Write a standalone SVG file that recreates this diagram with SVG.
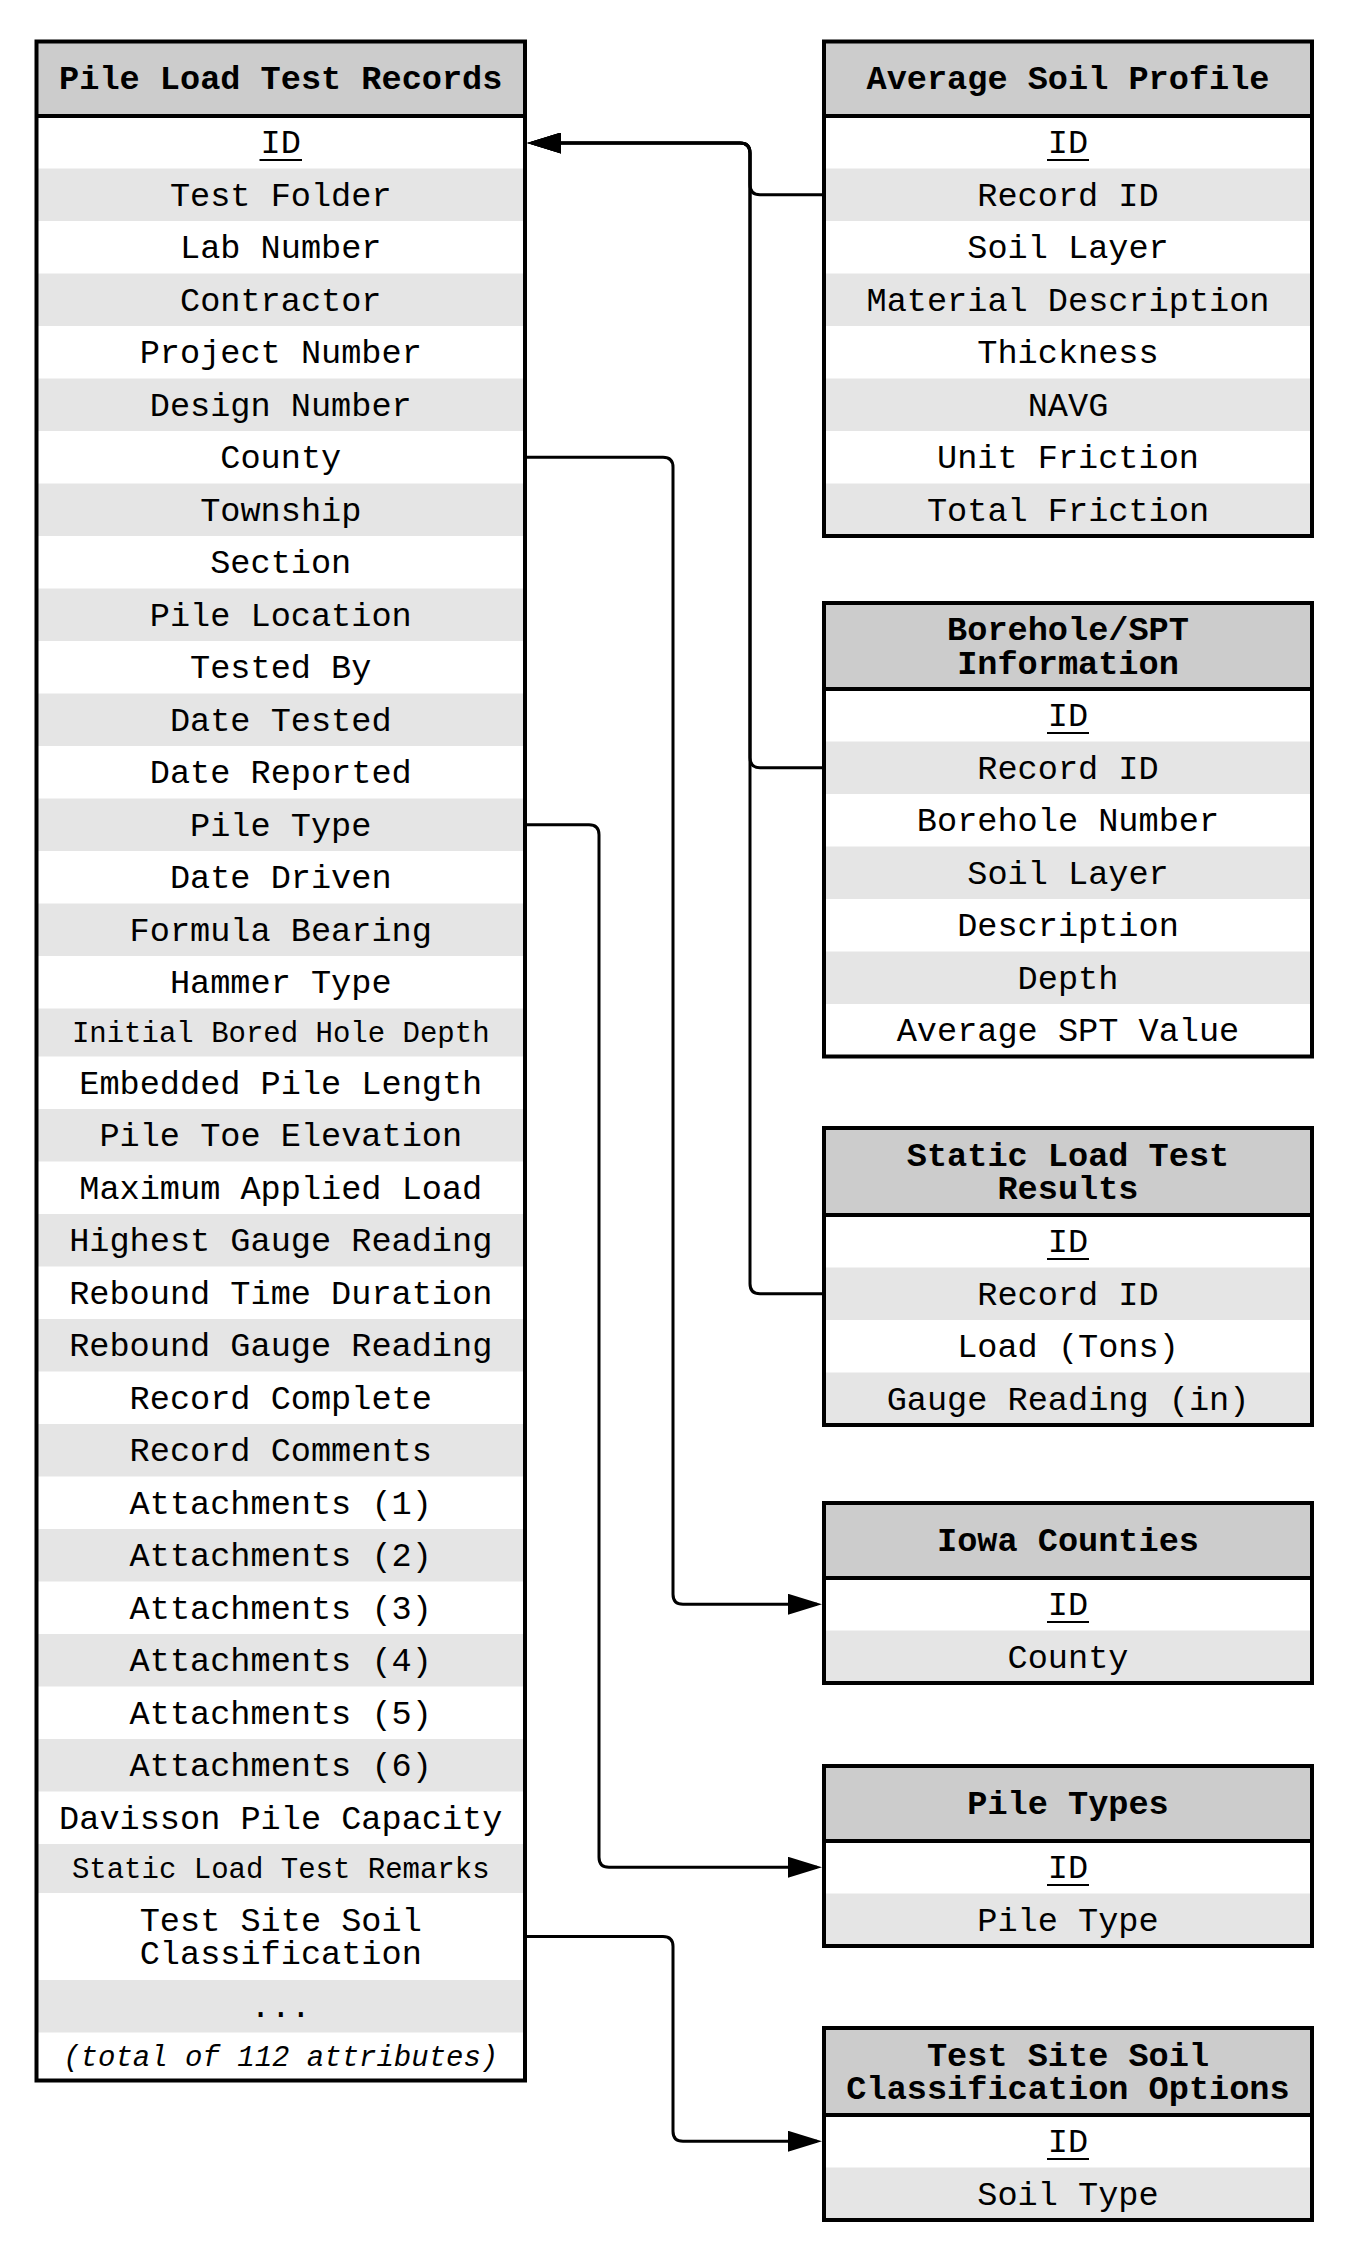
<svg xmlns="http://www.w3.org/2000/svg" width="1356" height="2259" viewBox="0 0 1356 2259">
  <style>
    .hdr { fill: #cccccc; }
    .alt { fill: #e5e5e5; }
    .frame { fill: none; stroke: #000; stroke-width: 4; }
    .sep { stroke: #000; stroke-width: 4; }
    .ul { stroke: #000; stroke-width: 2; }
    .t { font-family: "Liberation Mono", "Courier New", monospace; font-size: 33.6px; text-anchor: middle; fill: #000; }
    .b { font-weight: bold; }
    .s { font-size: 29px; }
    .i { font-style: italic; }
    .link { fill: none; stroke: #000; stroke-width: 3; }
  </style>
  <defs>
    <marker id="arrow" markerUnits="userSpaceOnUse" markerWidth="34" markerHeight="21" refX="29" refY="10.5" orient="auto">
      <path d="M0,0 L34,10.5 L0,21 Z" fill="#000"/>
    </marker>
  </defs>
  <rect width="1356" height="2259" fill="#fff"/>

  <!-- connectors -->
  <g id="connectors">
    <path class="link" d="M824,194.75 H760 Q750,194.75 750,184.75 V153 Q750,143 740,143 H532" marker-end="url(#arrow)"/>
    <path class="link" d="M824,767.75 H760 Q750,767.75 750,757.75 V153 Q750,143 740,143 H532" marker-end="url(#arrow)"/>
    <path class="link" d="M824,1293.75 H760 Q750,1293.75 750,1283.75 V153 Q750,143 740,143 H532" marker-end="url(#arrow)"/>
    <path class="link" d="M525,457.25 H663 Q673,457.25 673,467.25 V1594.25 Q673,1604.25 683,1604.25 H817" marker-end="url(#arrow)"/>
    <path class="link" d="M525,824.75 H589 Q599,824.75 599,834.75 V1857.25 Q599,1867.25 609,1867.25 H817" marker-end="url(#arrow)"/>
    <path class="link" d="M525,1936.5 H663 Q673,1936.5 673,1946.5 V2131.25 Q673,2141.25 683,2141.25 H817" marker-end="url(#arrow)"/>
  </g>

  <!-- Pile Load Test Records -->
  <g id="pile-load-test-records">
    <rect class="hdr" x="36.5" y="41.5" width="488.5" height="74.5"/>
    <rect class="alt" x="36.5" y="168.5" width="488.5" height="52.5"/>
    <rect class="alt" x="36.5" y="273.5" width="488.5" height="52.5"/>
    <rect class="alt" x="36.5" y="378.5" width="488.5" height="52.5"/>
    <rect class="alt" x="36.5" y="483.5" width="488.5" height="52.5"/>
    <rect class="alt" x="36.5" y="588.5" width="488.5" height="52.5"/>
    <rect class="alt" x="36.5" y="693.5" width="488.5" height="52.5"/>
    <rect class="alt" x="36.5" y="798.5" width="488.5" height="52.5"/>
    <rect class="alt" x="36.5" y="903.5" width="488.5" height="52.5"/>
    <rect class="alt" x="36.5" y="1008.5" width="488.5" height="48"/>
    <rect class="alt" x="36.5" y="1109" width="488.5" height="52.5"/>
    <rect class="alt" x="36.5" y="1214" width="488.5" height="52.5"/>
    <rect class="alt" x="36.5" y="1319" width="488.5" height="52.5"/>
    <rect class="alt" x="36.5" y="1424" width="488.5" height="52.5"/>
    <rect class="alt" x="36.5" y="1529" width="488.5" height="52.5"/>
    <rect class="alt" x="36.5" y="1634" width="488.5" height="52.5"/>
    <rect class="alt" x="36.5" y="1739" width="488.5" height="52.5"/>
    <rect class="alt" x="36.5" y="1844" width="488.5" height="49"/>
    <rect class="alt" x="36.5" y="1980" width="488.5" height="52.5"/>
    <rect class="frame" x="36.5" y="41.5" width="488.5" height="2039"/>
    <line class="sep" x1="36.5" y1="116" x2="525" y2="116"/>
    <text class="t b" x="280.75" y="88.5">Pile Load Test Records</text>
    <text class="t" x="280.75" y="153.25">ID</text>
    <line class="ul" x1="259.5" y1="160" x2="302" y2="160"/>
    <text class="t" x="280.75" y="205.75">Test Folder</text>
    <text class="t" x="280.75" y="258.25">Lab Number</text>
    <text class="t" x="280.75" y="310.75">Contractor</text>
    <text class="t" x="280.75" y="363.25">Project Number</text>
    <text class="t" x="280.75" y="415.75">Design Number</text>
    <text class="t" x="280.75" y="468.25">County</text>
    <text class="t" x="280.75" y="520.75">Township</text>
    <text class="t" x="280.75" y="573.25">Section</text>
    <text class="t" x="280.75" y="625.75">Pile Location</text>
    <text class="t" x="280.75" y="678.25">Tested By</text>
    <text class="t" x="280.75" y="730.75">Date Tested</text>
    <text class="t" x="280.75" y="783.25">Date Reported</text>
    <text class="t" x="280.75" y="835.75">Pile Type</text>
    <text class="t" x="280.75" y="888.25">Date Driven</text>
    <text class="t" x="280.75" y="940.75">Formula Bearing</text>
    <text class="t" x="280.75" y="993.25">Hammer Type</text>
    <text class="t s" x="280.75" y="1042">Initial Bored Hole Depth</text>
    <text class="t" x="280.75" y="1093.75">Embedded Pile Length</text>
    <text class="t" x="280.75" y="1146.25">Pile Toe Elevation</text>
    <text class="t" x="280.75" y="1198.75">Maximum Applied Load</text>
    <text class="t" x="280.75" y="1251.25">Highest Gauge Reading</text>
    <text class="t" x="280.75" y="1303.75">Rebound Time Duration</text>
    <text class="t" x="280.75" y="1356.25">Rebound Gauge Reading</text>
    <text class="t" x="280.75" y="1408.75">Record Complete</text>
    <text class="t" x="280.75" y="1461.25">Record Comments</text>
    <text class="t" x="280.75" y="1513.75">Attachments (1)</text>
    <text class="t" x="280.75" y="1566.25">Attachments (2)</text>
    <text class="t" x="280.75" y="1618.75">Attachments (3)</text>
    <text class="t" x="280.75" y="1671.25">Attachments (4)</text>
    <text class="t" x="280.75" y="1723.75">Attachments (5)</text>
    <text class="t" x="280.75" y="1776.25">Attachments (6)</text>
    <text class="t" x="280.75" y="1828.75">Davisson Pile Capacity</text>
    <text class="t s" x="280.75" y="1878">Static Load Test Remarks</text>
    <text class="t" x="280.75" y="1930.5">Test Site Soil</text>
    <text class="t" x="280.75" y="1964">Classification</text>
    <text class="t" x="280.75" y="2017.25">...</text>
    <text class="t s i" x="280.75" y="2066">(total of 112 attributes)</text>
  </g>

  <!-- Average Soil Profile -->
  <g id="average-soil-profile">
    <rect class="hdr" x="824" y="41.5" width="488" height="74.5"/>
    <rect class="alt" x="824" y="168.5" width="488" height="52.5"/>
    <rect class="alt" x="824" y="273.5" width="488" height="52.5"/>
    <rect class="alt" x="824" y="378.5" width="488" height="52.5"/>
    <rect class="alt" x="824" y="483.5" width="488" height="52.5"/>
    <rect class="frame" x="824" y="41.5" width="488" height="494.5"/>
    <line class="sep" x1="824" y1="116" x2="1312" y2="116"/>
    <text class="t b" x="1068" y="88.5">Average Soil Profile</text>
    <text class="t" x="1068" y="153.25">ID</text>
    <line class="ul" x1="1047" y1="160" x2="1089" y2="160"/>
    <text class="t" x="1068" y="205.75">Record ID</text>
    <text class="t" x="1068" y="258.25">Soil Layer</text>
    <text class="t" x="1068" y="310.75">Material Description</text>
    <text class="t" x="1068" y="363.25">Thickness</text>
    <text class="t" x="1068" y="415.75">NAVG</text>
    <text class="t" x="1068" y="468.25">Unit Friction</text>
    <text class="t" x="1068" y="520.75">Total Friction</text>
  </g>

  <!-- Borehole/SPT Information -->
  <g id="borehole-spt-information">
    <rect class="hdr" x="824" y="603" width="488" height="86"/>
    <rect class="alt" x="824" y="741.5" width="488" height="52.5"/>
    <rect class="alt" x="824" y="846.5" width="488" height="52.5"/>
    <rect class="alt" x="824" y="951.5" width="488" height="52.5"/>
    <rect class="frame" x="824" y="603" width="488" height="453.5"/>
    <line class="sep" x1="824" y1="689" x2="1312" y2="689"/>
    <text class="t b" x="1068" y="640.2">Borehole/SPT</text>
    <text class="t b" x="1068" y="673.8">Information</text>
    <text class="t" x="1068" y="726.25">ID</text>
    <line class="ul" x1="1047" y1="733" x2="1089" y2="733"/>
    <text class="t" x="1068" y="778.75">Record ID</text>
    <text class="t" x="1068" y="831.25">Borehole Number</text>
    <text class="t" x="1068" y="883.75">Soil Layer</text>
    <text class="t" x="1068" y="936.25">Description</text>
    <text class="t" x="1068" y="988.75">Depth</text>
    <text class="t" x="1068" y="1041.25">Average SPT Value</text>
  </g>

  <!-- Static Load Test Results -->
  <g id="static-load-test-results">
    <rect class="hdr" x="824" y="1128" width="488" height="87"/>
    <rect class="alt" x="824" y="1267.5" width="488" height="52.5"/>
    <rect class="alt" x="824" y="1372.5" width="488" height="52.5"/>
    <rect class="frame" x="824" y="1128" width="488" height="297"/>
    <line class="sep" x1="824" y1="1215" x2="1312" y2="1215"/>
    <text class="t b" x="1068" y="1165.7">Static Load Test</text>
    <text class="t b" x="1068" y="1199.3">Results</text>
    <text class="t" x="1068" y="1252.25">ID</text>
    <line class="ul" x1="1047" y1="1259" x2="1089" y2="1259"/>
    <text class="t" x="1068" y="1304.75">Record ID</text>
    <text class="t" x="1068" y="1357.25">Load (Tons)</text>
    <text class="t" x="1068" y="1409.75">Gauge Reading (in)</text>
  </g>

  <!-- Iowa Counties -->
  <g id="iowa-counties">
    <rect class="hdr" x="824" y="1503" width="488" height="75"/>
    <rect class="alt" x="824" y="1630.5" width="488" height="52.5"/>
    <rect class="frame" x="824" y="1503" width="488" height="180"/>
    <line class="sep" x1="824" y1="1578" x2="1312" y2="1578"/>
    <text class="t b" x="1068" y="1550.5">Iowa Counties</text>
    <text class="t" x="1068" y="1615.25">ID</text>
    <line class="ul" x1="1047" y1="1622" x2="1089" y2="1622"/>
    <text class="t" x="1068" y="1667.75">County</text>
  </g>

  <!-- Pile Types -->
  <g id="pile-types">
    <rect class="hdr" x="824" y="1766" width="488" height="75"/>
    <rect class="alt" x="824" y="1893.5" width="488" height="52.5"/>
    <rect class="frame" x="824" y="1766" width="488" height="180"/>
    <line class="sep" x1="824" y1="1841" x2="1312" y2="1841"/>
    <text class="t b" x="1068" y="1813.5">Pile Types</text>
    <text class="t" x="1068" y="1878.25">ID</text>
    <line class="ul" x1="1047" y1="1885" x2="1089" y2="1885"/>
    <text class="t" x="1068" y="1930.75">Pile Type</text>
  </g>

  <!-- Test Site Soil Classification Options -->
  <g id="soil-classification-options">
    <rect class="hdr" x="824" y="2028" width="488" height="87"/>
    <rect class="alt" x="824" y="2167.5" width="488" height="52.5"/>
    <rect class="frame" x="824" y="2028" width="488" height="192"/>
    <line class="sep" x1="824" y1="2115" x2="1312" y2="2115"/>
    <text class="t b" x="1068" y="2065.7">Test Site Soil</text>
    <text class="t b" x="1068" y="2099.3">Classification Options</text>
    <text class="t" x="1068" y="2152.25">ID</text>
    <line class="ul" x1="1047" y1="2159" x2="1089" y2="2159"/>
    <text class="t" x="1068" y="2204.75">Soil Type</text>
  </g>
</svg>
